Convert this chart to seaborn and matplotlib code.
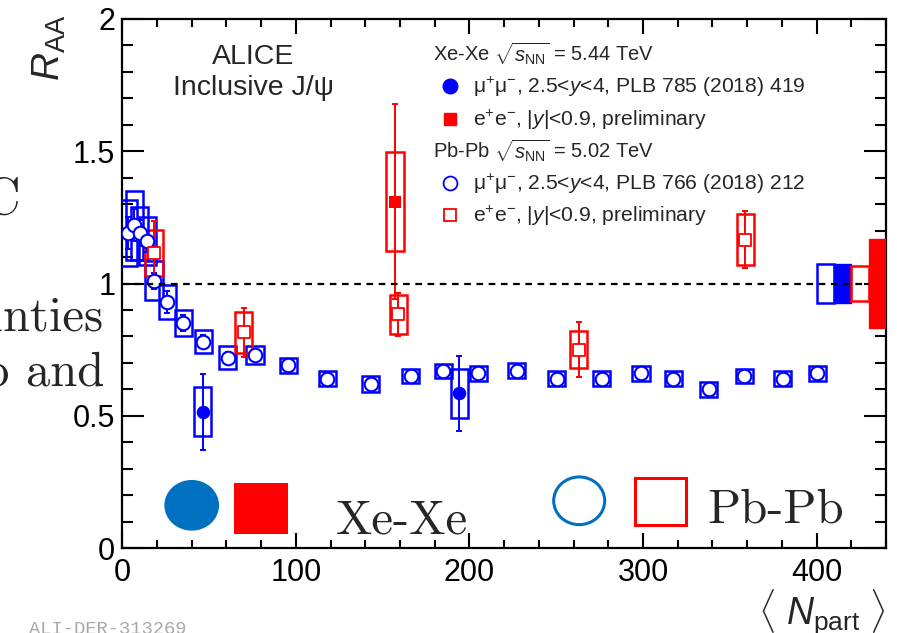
import matplotlib
matplotlib.use("Agg")
import matplotlib.pyplot as plt
import seaborn as sns
import pandas as pd
from matplotlib.patches import Rectangle, Ellipse
from matplotlib.ticker import MultipleLocator, FixedLocator, FixedFormatter

# ---------------- data ----------------
# Pb-Pb sqrt(sNN)=5.02 TeV, mu+mu-, 2.5<y<4
pbpb_fwd_npart = [3.5, 7.0, 10.0, 14.4, 18.3, 25.9, 35.2, 46.7, 60.7, 76.4, 95.6,
                  118.1, 143.1, 166.1, 184.9, 205.1, 227.2, 250.2, 276.1, 298.8,
                  317.4, 337.8, 358.3, 380.4, 400.4]
pbpb_fwd_raa = [1.19, 1.22, 1.19, 1.16, 1.01, 0.93, 0.85, 0.78, 0.72, 0.73, 0.69,
                0.64, 0.62, 0.65, 0.67, 0.66, 0.67, 0.64, 0.64, 0.66,
                0.64, 0.60, 0.65, 0.64, 0.66]
pbpb_fwd_stat = [0.06, 0.06, 0.05, 0.04, 0.03, 0.04, 0.03, 0.025, 0.02, 0.02, 0.015,
                 0.015, 0.015, 0.015, 0.015, 0.015, 0.015, 0.015, 0.015, 0.015,
                 0.015, 0.015, 0.015, 0.015, 0.015]
pbpb_fwd_sys = [0.125, 0.13, 0.10, 0.09, 0.074, 0.063, 0.05, 0.043, 0.042, 0.035, 0.03,
                0.028, 0.03, 0.028, 0.027, 0.027, 0.028, 0.028, 0.028, 0.028,
                0.028, 0.028, 0.028, 0.028, 0.028]

# Pb-Pb sqrt(sNN)=5.02 TeV, e+e-, |y|<0.9 (preliminary)
pbpb_mid_npart = [18.2, 70.0, 159.1, 263.0, 359.0]
pbpb_mid_raa = [1.115, 0.815, 0.883, 0.750, 1.166]
pbpb_mid_stat = [0.12, 0.093, 0.08, 0.103, 0.109]
pbpb_mid_sys = [0.086, 0.079, 0.074, 0.071, 0.096]

# Xe-Xe sqrt(sNN)=5.44 TeV, mu+mu-, 2.5<y<4
xexe_fwd_npart = [46.3, 194.1]
xexe_fwd_raa = [0.515, 0.585]
xexe_fwd_stat = [0.143, 0.142]
xexe_fwd_sys = [0.092, 0.092]

# Xe-Xe sqrt(sNN)=5.44 TeV, e+e-, |y|<0.9 (preliminary)
xexe_mid_npart = [157.1]
xexe_mid_raa = [1.31]
xexe_mid_stat = [0.37]
xexe_mid_sys = [0.187]

# global (correlated) uncertainties, drawn around unity
global_labels = ["Pb-Pb mu", "Xe-Xe mu", "Pb-Pb ee", "Xe-Xe ee"]
global_unc = [0.074, 0.074, 0.065, 0.167]

y_ticks = [0, 0.5, 1, 1.5, 2]
y_tick_labels = ["0", "0.5", "1", "1.5", "2"]
x_ticks = [0, 100, 200, 300, 400]
x_tick_labels = ["0", "100", "200", "300", "400"]

BLUE = "#0000FF"
RED = "#FF0000"
SLIDE_BLUE = "#0070C0"
BOX_HW = 5.0       # half width of systematic boxes in Npart units
GLOBAL_W = 10.0    # width of normalisation boxes

# ---------------- style ----------------
sns.set_style("ticks")
plt.rcParams["font.family"] = ["Liberation Sans", "DejaVu Sans"]
plt.rcParams["mathtext.fontset"] = "custom"
plt.rcParams["mathtext.rm"] = "Liberation Sans"
plt.rcParams["mathtext.it"] = "Liberation Sans:italic"
plt.rcParams["mathtext.bf"] = "Liberation Sans:bold"

fig = plt.figure(figsize=(8.97, 6.33), dpi=100)
W, H = 897.0, 633.0
ax = fig.add_axes([122.3 / W, 85 / H, 763.7 / W, 529 / H])

XMAX = 440.0
ax.set_xlim(0, XMAX)
ax.set_ylim(0, 2)


def sys_boxes(npart, raa, sys, color):
    for x, y, s in zip(npart, raa, sys):
        ax.add_patch(Rectangle((x - BOX_HW, y - s), 2 * BOX_HW, 2 * s,
                               fill=False, ec=color, lw=1.8, zorder=3))


def stat_bars(npart, raa, stat, color):
    ax.errorbar(npart, raa, yerr=stat, fmt="none", ecolor=color,
                elinewidth=1.4, capsize=2, capthick=1.4, zorder=4)


# unity reference line
ax.axhline(1.0, color="black", lw=1.6, ls=(0, (3, 2.5)), zorder=6)

# Pb-Pb forward
sys_boxes(pbpb_fwd_npart, pbpb_fwd_raa, pbpb_fwd_sys, BLUE)
stat_bars(pbpb_fwd_npart, pbpb_fwd_raa, pbpb_fwd_stat, BLUE)
df_pf = pd.DataFrame({"npart": pbpb_fwd_npart, "raa": pbpb_fwd_raa})
sns.scatterplot(data=df_pf, x="npart", y="raa", ax=ax, marker="o", s=95,
                facecolor="white", edgecolor=BLUE, linewidth=1.5, zorder=5,
                legend=False)

# Pb-Pb midrapidity
sys_boxes(pbpb_mid_npart, pbpb_mid_raa, pbpb_mid_sys, RED)
stat_bars(pbpb_mid_npart, pbpb_mid_raa, pbpb_mid_stat, RED)
df_pm = pd.DataFrame({"npart": pbpb_mid_npart, "raa": pbpb_mid_raa})
sns.scatterplot(data=df_pm, x="npart", y="raa", ax=ax, marker="s", s=70,
                facecolor="white", edgecolor=RED, linewidth=1.3, zorder=5,
                legend=False)

# Xe-Xe forward
sys_boxes(xexe_fwd_npart, xexe_fwd_raa, xexe_fwd_sys, BLUE)
stat_bars(xexe_fwd_npart, xexe_fwd_raa, xexe_fwd_stat, BLUE)
df_xf = pd.DataFrame({"npart": xexe_fwd_npart, "raa": xexe_fwd_raa})
sns.scatterplot(data=df_xf, x="npart", y="raa", ax=ax, marker="o", s=95,
                color=BLUE, edgecolor=BLUE, linewidth=0, zorder=5, legend=False)

# Xe-Xe midrapidity
sys_boxes(xexe_mid_npart, xexe_mid_raa, xexe_mid_sys, RED)
stat_bars(xexe_mid_npart, xexe_mid_raa, xexe_mid_stat, RED)
df_xm = pd.DataFrame({"npart": xexe_mid_npart, "raa": xexe_mid_raa})
sns.scatterplot(data=df_xm, x="npart", y="raa", ax=ax, marker="s", s=80,
                color=RED, edgecolor=RED, linewidth=0, zorder=5, legend=False)

# normalisation boxes at the right edge
g_styles = [dict(fill=False, ec=BLUE, lw=1.8, z=3),
            dict(fill=True, fc=BLUE, ec=BLUE, lw=1.0, z=3),
            dict(fill=False, ec=RED, lw=1.8, z=3),
            dict(fill=True, fc=RED, ec=RED, lw=1.0, z=7)]
for i, (u, st) in enumerate(zip(global_unc, g_styles)):
    x0 = XMAX - GLOBAL_W * (len(global_unc) - i)
    kw = dict(lw=st["lw"], ec=st["ec"], zorder=st["z"], fill=st["fill"])
    if st["fill"]:
        kw["fc"] = st["fc"]
    ax.add_patch(Rectangle((x0, 1 - u), GLOBAL_W, 2 * u, **kw))

# ---------------- axes ----------------
for sp in ax.spines.values():
    sp.set_visible(True)
    sp.set_linewidth(1.6)
    sp.set_color("black")

ax.xaxis.set_major_locator(FixedLocator(x_ticks))
ax.xaxis.set_major_formatter(FixedFormatter(x_tick_labels))
ax.xaxis.set_minor_locator(MultipleLocator(20))
ax.yaxis.set_major_locator(FixedLocator(y_ticks))
ax.yaxis.set_major_formatter(FixedFormatter(y_tick_labels))
ax.yaxis.set_minor_locator(MultipleLocator(0.1))

ax.tick_params(axis="both", which="both", direction="in", top=True, right=True,
               colors="black", width=1.5)
ax.tick_params(axis="x", which="major", length=11, pad=7, labelsize=22)
ax.tick_params(axis="x", which="minor", length=5.5)
ax.tick_params(axis="y", which="major", length=16, pad=5, labelsize=22)
ax.tick_params(axis="y", which="minor", length=8)
ax.set_xlabel("")
ax.set_ylabel("")

fig.text(49 / W, 1 - 15 / H, r"$R_{\rm AA}$", rotation=90, fontsize=28,
         ha="center", va="top")
fig.text(886 / W, 1 - 625 / H, r"$\langle\ N_{\rm part}\ \rangle$", fontsize=27,
         ha="right", va="baseline")

# ---------------- labels inside frame ----------------
ax.text(0.1711, 0.915, "ALICE", transform=ax.transAxes, fontsize=20.5,
        ha="center", va="baseline")
ax.text(0.1711, 0.8563, "Inclusive J/ψ", transform=ax.transAxes, fontsize=20.5,
        ha="center", va="baseline")

hx, mx, tx = 0.4068, 0.4291, 0.4592
hdr_fs = 14.5
item_fs = 15.2
ax.text(hx, 0.9206, r"Xe-Xe $\sqrt{s_{\rm NN}}$ = 5.44 TeV", transform=ax.transAxes,
        fontsize=hdr_fs, va="baseline")
ax.text(tx, 0.860, r"μ$^{+}$μ$^{-}$, 2.5<$y$<4, PLB 785 (2018) 419",
        transform=ax.transAxes, fontsize=item_fs, va="baseline")
ax.text(tx, 0.7977, r"e$^{+}$e$^{-}$, |$y$|<0.9, preliminary",
        transform=ax.transAxes, fontsize=item_fs, va="baseline")
ax.text(hx, 0.7366, r"Pb-Pb $\sqrt{s_{\rm NN}}$ = 5.02 TeV", transform=ax.transAxes,
        fontsize=hdr_fs, va="baseline")
ax.text(tx, 0.6767, r"μ$^{+}$μ$^{-}$, 2.5<$y$<4, PLB 766 (2018) 212",
        transform=ax.transAxes, fontsize=item_fs, va="baseline")
ax.text(tx, 0.6157, r"e$^{+}$e$^{-}$, |$y$|<0.9, preliminary",
        transform=ax.transAxes, fontsize=item_fs, va="baseline")

ax.plot([mx], [0.8733], "o", ms=10.5, color=BLUE, mec=BLUE, transform=ax.transAxes,
        clip_on=False, zorder=8)
ax.plot([mx], [0.811], "s", ms=9, color=RED, mec=RED, transform=ax.transAxes,
        clip_on=False, zorder=8)
ax.plot([mx], [0.690], "o", ms=10, mfc="none", mec=BLUE, mew=1.3,
        transform=ax.transAxes, clip_on=False, zorder=8)
ax.plot([mx], [0.6295], "s", ms=9, mfc="none", mec=RED, mew=1.3,
        transform=ax.transAxes, clip_on=False, zorder=8)

# ---------------- slide overlay: system key ----------------
fig.add_artist(Ellipse((191.7 / W, 1 - 505.3 / H), 54.7 / W, 50.7 / H,
                       transform=fig.transFigure, fc=SLIDE_BLUE, ec="none", zorder=10))
fig.add_artist(Rectangle((234 / W, 1 - 534.3 / H), 53.7 / W, 51 / H,
                         transform=fig.transFigure, fc=RED, ec="none", zorder=10))
fig.text(336 / W, 1 - 533.3 / H, "Xe-Xe", family="cmr10", fontsize=35,
         ha="left", va="baseline", zorder=10)
fig.add_artist(Ellipse((579.2 / W, 1 - 500.8 / H), 51 / W, 47.7 / H,
                       transform=fig.transFigure, fc="none", ec=SLIDE_BLUE, lw=2.2,
                       zorder=10))
fig.add_artist(Rectangle((635 / W, 1 - 524.7 / H), 51 / W, 47 / H,
                         transform=fig.transFigure, fc="none", ec=RED, lw=2.2,
                         zorder=10))
fig.text(707.3 / W, 1 - 522.7 / H, "Pb-Pb", family="cmr10", fontsize=35,
         ha="left", va="baseline", zorder=10)

# slide text running off the left edge
fig.text(21 / W, 1 - 214 / H, "LHC", family="cmr10", fontsize=38,
         ha="right", va="baseline", zorder=10)
fig.text(104 / W, 1 - 330 / H, "uncertainties", family="cmr10", fontsize=35,
         ha="right", va="baseline", zorder=10)
fig.text(104 / W, 1 - 385 / H, "Pb-Pb and", family="cmr10", fontsize=35,
         ha="right", va="baseline", zorder=10)
fig.text(29 / W, -0.002, "ALI-DER-313269", family="Liberation Mono", fontsize=13.5,
         color="#a8a8a8", ha="left", va="baseline")

fig.savefig("out.png", dpi=100)
